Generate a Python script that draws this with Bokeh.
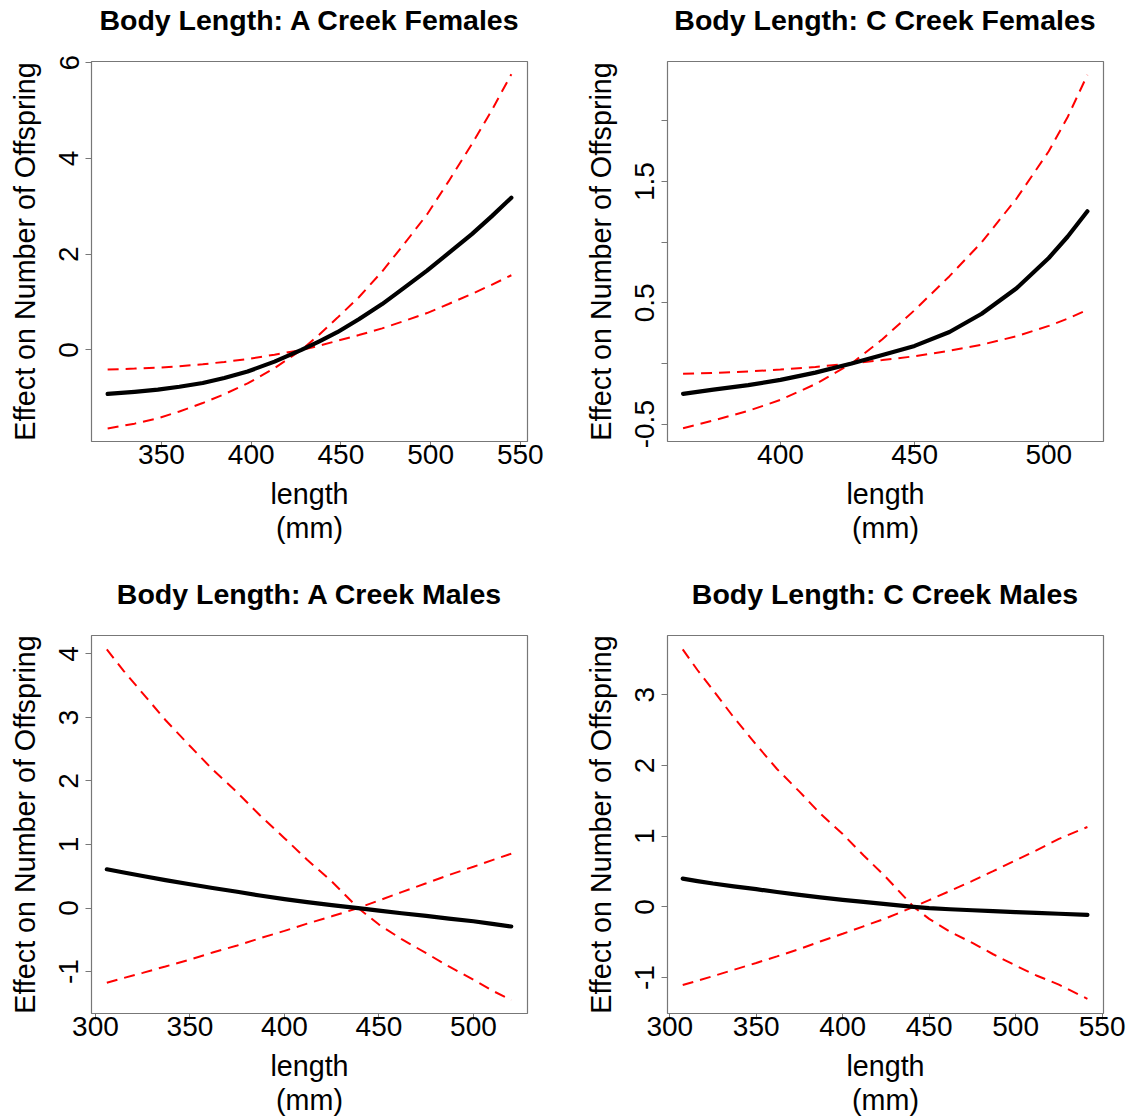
from bokeh.plotting import figure
from bokeh.layouts import column, row
from bokeh.models import FixedTicker, Range1d, Div
from bokeh.embed import file_html
from bokeh.resources import INLINE

FONT = "Liberation Sans"

# ---- A Creek Females ----
x_af = [320, 335, 348, 360, 373, 385, 398, 413, 428, 438, 448, 460, 473, 485, 498, 510, 523, 534, 545]
fit_af = [-0.92, -0.875, -0.83, -0.77, -0.69, -0.585, -0.45, -0.245, 0.0, 0.18, 0.37, 0.64, 0.957,
          1.29, 1.657, 2.02, 2.42, 2.79, 3.18]
up_af = [-1.64, -1.54, -1.43, -1.285, -1.11, -0.925, -0.70, -0.38, 0.0, 0.32, 0.67, 1.1, 1.64,
         2.2, 2.83, 3.52, 4.30, 5.0, 5.76]
lo_af = [-0.41, -0.39, -0.37, -0.34, -0.30, -0.25, -0.19, -0.10, 0.0, 0.09, 0.19, 0.31, 0.45,
         0.6, 0.77, 0.96, 1.17, 1.36, 1.56]
xt_af = [350, 400, 450, 500, 550]
yt_af = [0, 2, 4, 6]
yl_af = ["0", "2", "4", "6"]

# ---- C Creek Females ----
x_cf = [363.7, 375, 388, 400, 413, 426.5, 438, 450, 463, 475, 488, 500, 507, 514.4]
fit_cf = [-0.25, -0.215, -0.178, -0.135, -0.075, 0.0, 0.07, 0.145, 0.26, 0.41, 0.62, 0.87, 1.045, 1.255]
up_cf = [-0.533, -0.47, -0.39, -0.30, -0.17, 0.0, 0.2, 0.44, 0.72, 1.0, 1.36, 1.75, 2.03, 2.38]
lo_cf = [-0.085, -0.078, -0.066, -0.05, -0.028, 0.0, 0.028, 0.06, 0.105, 0.155, 0.225, 0.31, 0.37, 0.443]
xt_cf = [400, 450, 500]
yt_cf = [-0.5, 0, 0.5, 1, 1.5, 2]
yl_cf = ["-0.5", "", "0.5", "", "1.5", ""]

# ---- A Creek Males ----
x_am = [306, 315, 325, 337, 350, 362, 375, 387, 400, 412, 425, 439, 450, 462, 475, 487, 500, 510, 520]
fit_am = [0.61, 0.56, 0.505, 0.44, 0.375, 0.315, 0.256, 0.198, 0.141, 0.093, 0.047, 0.0, -0.04,
          -0.082, -0.124, -0.166, -0.208, -0.248, -0.29]
up_am = [4.07, 3.73, 3.38, 2.96, 2.55, 2.18, 1.82, 1.46, 1.10, 0.76, 0.42, 0.0, -0.26, -0.49,
         -0.71, -0.92, -1.13, -1.30, -1.45]
lo_am = [-1.176, -1.10, -1.02, -0.92, -0.811, -0.70, -0.59, -0.475, -0.36, -0.245, -0.13, 0.0,
         0.12, 0.25, 0.39, 0.52, 0.65, 0.755, 0.855]
xt_am = [300, 350, 400, 450, 500]
yt_am = [-1, 0, 1, 2, 3, 4]
yl_am = ["-1", "0", "1", "2", "3", "4"]

# ---- C Creek Males ----
x_cm = [307.5, 316, 325, 337, 350, 362, 375, 387, 400, 412, 425, 441, 450, 462, 475, 487, 500,
        512, 525, 541.5]
fit_cm = [0.40, 0.365, 0.33, 0.29, 0.25, 0.21, 0.17, 0.135, 0.10, 0.07, 0.04, 0.0, -0.018, -0.034,
          -0.048, -0.061, -0.074, -0.086, -0.097, -0.114]
up_cm = [3.642, 3.35, 3.066, 2.68, 2.294, 1.95, 1.63, 1.32, 1.03, 0.73, 0.42, 0.0, -0.17, -0.35,
         -0.51, -0.67, -0.83, -0.97, -1.10, -1.30]
lo_cm = [-1.106, -1.045, -0.98, -0.89, -0.793, -0.70, -0.596, -0.49, -0.381, -0.275, -0.161, 0.0,
         0.096, 0.225, 0.367, 0.505, 0.657, 0.80, 0.961, 1.13]
xt_cm = [300, 350, 400, 450, 500, 550]
yt_cm = [-1, 0, 1, 2, 3]
yl_cm = ["-1", "0", "1", "2", "3"]

titles = ["Body Length: A Creek Females", "Body Length: C Creek Females",
          "Body Length: A Creek Males", "Body Length: C Creek Males"]

AXIS_GRAY = "#777777"
TITLE_H = 40


def style_axis(ax):
    ax.axis_line_color = None
    ax.major_tick_line_color = AXIS_GRAY
    ax.major_tick_out = 6
    ax.major_tick_in = 0
    ax.minor_tick_line_color = None
    ax.major_label_text_font = FONT
    ax.major_label_text_font_size = "28px"
    ax.major_label_text_color = "black"
    ax.axis_label_text_font = FONT
    ax.axis_label_text_font_size = "28.7px"
    ax.axis_label_text_font_style = "normal"
    ax.axis_label_text_color = "black"


def title_div(text, width, left):
    html = ('<div style="width:436px;margin-left:%dpx;padding-top:4px;text-align:center;'
            'font-family:\'Liberation Sans\',Arial,sans-serif;font-weight:bold;font-size:28.5px;'
            'line-height:32px;color:black;white-space:nowrap;">%s</div>' % (left, text))
    return Div(text=html, width=width, height=TITLE_H, margin=(0, 0, 0, 0))


def panel(xs, fit, up, lo, xr, yr, xt, yt, yl, width, height, bl, br, bt, bb):
    p = figure(width=width, height=height, title=None,
               x_range=Range1d(*xr), y_range=Range1d(*yr),
               output_backend="svg", toolbar_location=None,
               min_border_left=bl, min_border_right=br,
               min_border_top=bt, min_border_bottom=bb,
               background_fill_color="white", border_fill_color="white")

    xa = p.below[0]
    ya = p.left[0]
    style_axis(xa)
    style_axis(ya)

    xa.ticker = FixedTicker(ticks=xt)
    xa.major_label_overrides = {t: str(t) for t in xt}
    xa.axis_label = "length\n(mm)"
    xa.major_label_standoff = -3
    xa.axis_label_standoff = 11
    xa.axis_label_text_line_height = 1.08

    ya.ticker = FixedTicker(ticks=yt)
    ya.major_label_overrides = dict(zip(yt, yl))
    ya.major_label_orientation = "vertical"
    ya.major_label_standoff = 7
    ya.axis_label = "Effect on Number of Offspring"
    ya.axis_label_standoff = 16

    p.outline_line_color = AXIS_GRAY
    p.outline_line_width = 1.2
    p.xgrid.visible = False
    p.ygrid.visible = False

    p.line(xs, up, line_color="#ff0000", line_width=2, line_dash="11 7")
    p.line(xs, lo, line_color="#ff0000", line_width=2, line_dash="11 7")
    p.line(xs, fit, line_color="black", line_width=4.2, line_cap="round", line_join="round")
    return p


TOP = 61 - TITLE_H
p1 = panel(x_af, fit_af, up_af, lo_af, (311, 554), (-1.913, 6.025), xt_af, yt_af, yl_af,
           576, 574 - TITLE_H, 91, 49, TOP, 133)
p2 = panel(x_cf, fit_cf, up_cf, lo_cf, (357.9, 520.4), (-0.643, 2.49), xt_cf, yt_cf, yl_cf,
           552, 574 - TITLE_H, 91, 25, TOP, 133)
p3 = panel(x_am, fit_am, up_am, lo_am, (297.9, 528.6), (-1.66, 4.29), xt_am, yt_am, yl_am,
           576, 545 - TITLE_H, 91, 49, TOP, 104)
p4 = panel(x_cm, fit_cm, up_cm, lo_cm, (298.7, 550.8), (-1.508, 3.838), xt_cm, yt_cm, yl_cm,
           552, 545 - TITLE_H, 91, 25, TOP, 104)

d1 = title_div(titles[0], 576, 91)
d2 = title_div(titles[1], 552, 91)
d3 = title_div(titles[2], 576, 91)
d4 = title_div(titles[3], 552, 91)

layout = column(row(d1, d2), row(p1, p2), row(d3, d4), row(p3, p4))
open("out.html", "w").write(file_html(layout, INLINE))
